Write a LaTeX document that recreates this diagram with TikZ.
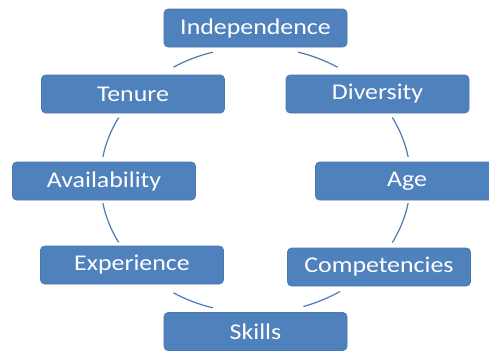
\documentclass[tikz,border=0pt]{standalone}
\usepackage{fontspec}
\usetikzlibrary{calc}
\setmainfont{Carlito}[FakeStretch=1.15]
\definecolor{boxblue}{HTML}{4F81BD}
\definecolor{boxedge}{HTML}{4A78B0}
\definecolor{arcblue}{HTML}{4A7BB7}
\begin{document}
\begin{tikzpicture}[x=1pt,y=-1pt,
  cyclebox/.style={draw=boxedge, line width=0.6pt, fill=boxblue, rounded corners=4pt,
    minimum width=183pt, minimum height=38pt, inner sep=0pt,
    text=white, font=\fontsize{22.5}{26}\selectfont},
  cyclearc/.style={draw=arcblue, line width=1.2pt}]
\useasboundingbox (0,0) rectangle (489,351);
\clip (0,0) rectangle (489,351);
\fill[white] (0,0) rectangle (489,351);
\coordinate (c) at (255.5,180);
% arcs
\foreach \a/\b [count=\i] in {58/74, 10/28, -28/-10, -72/-57, -122/-106, -170/-152, 152/170, 106/122}{
  \coordinate (s\i) at ($(c)+({155*cos(\a)},{-133*sin(\a)})$);
}
\foreach \a/\b [count=\i] in {58/74, 10/28, -28/-10, -72/-57, -122/-106, -170/-152, 152/170, 106/122}{
  \draw[cyclearc] (s\i) arc[start angle=-\a, end angle=-\b, x radius=155, y radius=133];
}
\node[cyclebox] (ind) at (255.5,28) {Independence};
\node[cyclebox] (ten) at (133,94) {Tenure};
\node[cyclebox] (div) at (377.5,94) {Diversity};
\node[cyclebox] (ava) at (104,181) {Availability};
\node[cyclebox] (age) at (407,181) {Age};
\node[cyclebox] (exp) at (132,265) {Experience};
\node[cyclebox] (com) at (379,267) {Competencies};
\node[cyclebox] (ski) at (255.5,331.5) {Skills};
\end{tikzpicture}
\end{document}
